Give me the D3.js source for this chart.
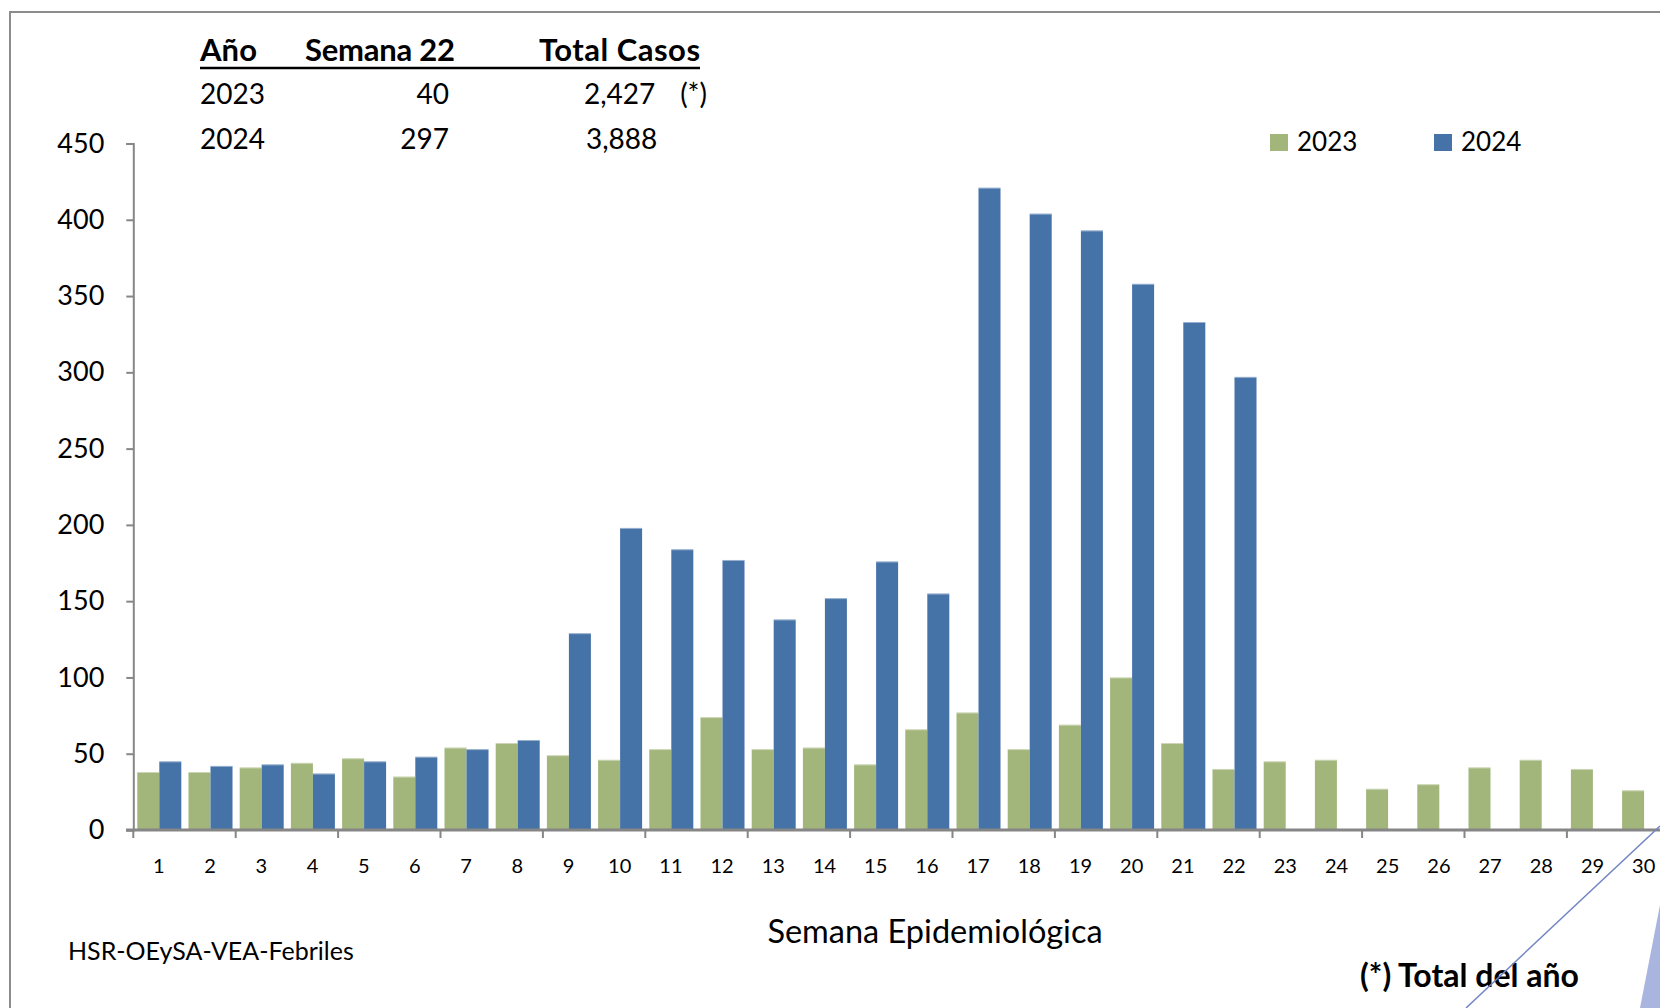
<!DOCTYPE html>
<meta charset="utf-8">
<head>
<style>
body { margin: 0; background: #fff; }
svg text { font-family: Lato, "Open Sans", sans-serif; fill: #000; }
</style>
</head>
<body>
<svg width="1660" height="1008"></svg>
<script src="https://d3js.org/d3.v7.min.js"></script>
<script>

// weeks on the x axis
var weeks = d3.range(1, 31);
var years = ["2023", "2024"];

// cases per week
var cases2023 = [38, 38, 41, 44, 47, 35, 54, 57, 49, 46, 53, 74, 53, 54, 43,
                 66, 77, 53, 69, 100, 57, 40, 45, 46, 27, 30, 41, 46, 40, 26];
var cases2024 = [45, 42, 43, 37, 45, 48, 53, 59, 129, 198, 184, 177, 138, 152, 176,
                 155, 421, 404, 393, 358, 333, 297];

var yTicks = [0, 50, 100, 150, 200, 250, 300, 350, 400, 450];

// summary table
var tableHead = ["Año", "Semana 22", "Total Casos"];
var tableRows = [["2023", "40", "2,427", "(*)"], ["2024", "297", "3,888", ""]];

var colors = {"2023": "#a2b57a", "2024": "#4572a7"};

var svg = d3.select("svg");

// frame around the chart
svg.append("path")
    .attr("d", "M10,1008 V12 H1660")
    .attr("fill", "none")
    .attr("stroke", "#8c8c8c")
    .attr("stroke-width", 2);

var x = d3.scaleBand().domain(weeks).range([133.3, 133.3 + 30 * 51.2]);
var xs = d3.scaleBand().domain(years).range([4, 48]);
var y = d3.scaleLinear().domain([0, 450]).range([830, 143.5]);

var rows = [];
weeks.forEach(function(w, i) {
  if (cases2023[i] != null) rows.push({week: w, year: "2023", v: cases2023[i]});
  if (cases2024[i] != null) rows.push({week: w, year: "2024", v: cases2024[i]});
});

var bars = svg.append("g").attr("class", "bars");
bars.selectAll("rect")
  .data(rows)
  .enter().append("rect")
    .attr("x", function(d) { return x(d.week) + xs(d.year); })
    .attr("y", function(d) { return y(d.v); })
    .attr("width", xs.bandwidth())
    .attr("height", function(d) { return y(0) - y(d.v); })
    .attr("fill", function(d) { return colors[d.year]; });

// light edge on top of each bar
bars.selectAll("line")
  .data(rows)
  .enter().append("line")
    .attr("x1", function(d) { return x(d.week) + xs(d.year); })
    .attr("x2", function(d) { return x(d.week) + xs(d.year) + xs.bandwidth(); })
    .attr("y1", function(d) { return y(d.v) + 0.5; })
    .attr("y2", function(d) { return y(d.v) + 0.5; })
    .attr("stroke", "#ffffff")
    .attr("stroke-opacity", 0.45);

// y axis
var yAxis = svg.append("g")
    .attr("transform", "translate(133.3,0)")
    .call(d3.axisLeft(y).tickValues(yTicks).tickSize(7).tickPadding(22));
yAxis.select(".domain").attr("stroke", "#868686").attr("stroke-width", 2);
yAxis.selectAll(".tick line").attr("stroke", "#868686").attr("stroke-width", 2);
yAxis.selectAll(".tick text")
    .style("font-family", "Lato, sans-serif")
    .style("font-size", "27px")
    .attr("fill", "#000");

// x axis: tick marks every second week
var xAxisG = svg.append("g").attr("class", "xaxis");
xAxisG.append("line")
    .attr("x1", 126).attr("x2", 1660)
    .attr("y1", y(0)).attr("y2", y(0))
    .attr("stroke", "#868686").attr("stroke-width", 3);
xAxisG.selectAll(".tk")
  .data(weeks.filter(function(w) { return (w - 1) % 2 == 0; }))
  .enter().append("line")
    .attr("class", "tk")
    .attr("x1", function(d) { return x(d); })
    .attr("x2", function(d) { return x(d); })
    .attr("y1", y(0)).attr("y2", y(0) + 8)
    .attr("stroke", "#868686").attr("stroke-width", 2);
xAxisG.selectAll("text")
  .data(weeks)
  .enter().append("text")
    .attr("x", function(d) { return x(d) + x.bandwidth() / 2; })
    .attr("y", 873)
    .attr("text-anchor", "middle")
    .style("font-size", "20px")
    .text(function(d) { return d; });

svg.append("text")
    .attr("x", 935).attr("y", 943)
    .attr("text-anchor", "middle")
    .style("font-size", "32.5px")
    .text("Semana Epidemiológica");

svg.append("text")
    .attr("x", 68).attr("y", 960)
    .style("font-size", "25px")
    .text("HSR-OEySA-VEA-Febriles");

svg.append("text")
    .attr("x", 1360).attr("y", 987)
    .style("font-size", "32px")
    .style("font-weight", "bold")
    .text("(*) Total del año");

// legend
var legend = svg.append("g").selectAll("g")
  .data(years)
  .enter().append("g")
    .attr("transform", function(d, i) { return "translate(" + (1270 + i * 164) + ",134)"; });
legend.append("rect")
    .attr("width", 18).attr("height", 17)
    .attr("fill", function(d) { return colors[d]; });
legend.append("text")
    .attr("x", 27).attr("y", 17)
    .style("font-size", "26px")
    .text(function(d) { return d; });

// table at the top
var tbl = svg.append("g");
var headX = [200, 305, 539];
var headW = [57, 150, 161];
tbl.selectAll(".th")
  .data(tableHead)
  .enter().append("text")
    .attr("class", "th")
    .attr("x", function(d, i) { return headX[i]; })
    .attr("y", 61)
    .attr("textLength", function(d, i) { return headW[i]; })
    .attr("lengthAdjust", "spacing")
    .style("font-size", "31px")
    .style("font-weight", "bold")
    .text(function(d) { return d; });
tbl.append("line")
    .attr("x1", 200).attr("x2", 700)
    .attr("y1", 68).attr("y2", 68)
    .attr("stroke", "#000").attr("stroke-width", 2.5);

tableRows.forEach(function(r, i) {
  var yy = 103.5 + i * 45;
  tbl.append("text").attr("x", 200).attr("y", yy)
      .style("font-size", "28px").text(r[0]);
  tbl.append("text").attr("x", 449).attr("y", yy).attr("text-anchor", "end")
      .style("font-size", "28px").text(r[1]);
  tbl.append("text").attr("x", i == 0 ? 584 : 586).attr("y", yy)
      .style("font-size", "28px").text(r[2]);
  if (r[3]) {
    tbl.append("text").attr("x", 707).attr("y", yy).attr("text-anchor", "end")
        .style("font-size", "28px").text(r[3]);
  }
});

// slide decorations in the lower right corner
svg.append("line")
    .attr("x1", 1466).attr("y1", 1008)
    .attr("x2", 1660).attr("y2", 826)
    .attr("stroke", "#7185c2").attr("stroke-width", 1.5);
svg.append("path")
    .attr("d", "M1640,1008 L1660,905 L1660,1008 Z")
    .attr("fill", "#a9b4df");

</script>
</body>
